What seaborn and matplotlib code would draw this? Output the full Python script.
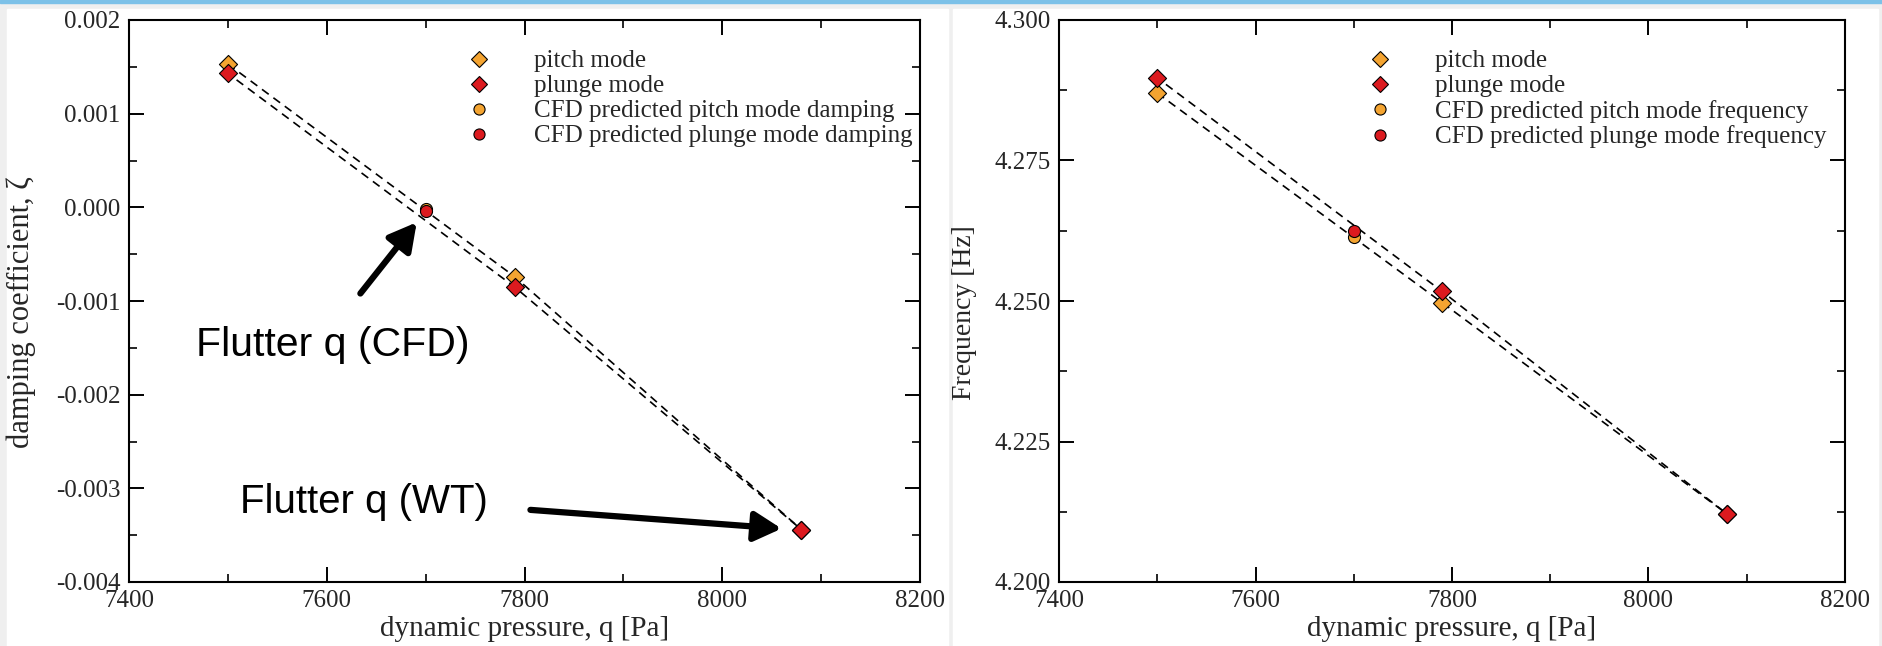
import numpy as np
import pandas as pd
import matplotlib
matplotlib.use("Agg")
import matplotlib.pyplot as plt
import seaborn as sns
from matplotlib.patches import Rectangle
from matplotlib.lines import Line2D
from matplotlib.ticker import MultipleLocator, FixedLocator, FixedFormatter

# ---------------- data ----------------
q_modes = [7500, 7790, 8080]
damp_pitch = [0.00153, -0.00074, -0.00344]
damp_plunge = [0.00143, -0.00085, -0.00344]
freq_pitch = [4.2870, 4.2497, 4.2121]
freq_plunge = [4.2897, 4.2517, 4.2121]

q_cfd = [7700]
damp_cfd_pitch = [-0.00002]
damp_cfd_plunge = [-0.00004]
freq_cfd_pitch = [4.2614]
freq_cfd_plunge = [4.2624]

x_ticks = [7400, 7600, 7800, 8000, 8200]
x_ticklabels = ["7400", "7600", "7800", "8000", "8200"]
damp_ticks = [-0.004, -0.003, -0.002, -0.001, 0.0, 0.001, 0.002]
damp_ticklabels = ["-0.004", "-0.003", "-0.002", "-0.001", "0.000", "0.001", "0.002"]
freq_ticks = [4.200, 4.225, 4.250, 4.275, 4.300]
freq_ticklabels = ["4.200", "4.225", "4.250", "4.275", "4.300"]

left_legend = ["pitch mode", "plunge mode",
               "CFD predicted pitch mode damping", "CFD predicted plunge mode damping"]
right_legend = ["pitch mode", "plunge mode",
                "CFD predicted pitch mode frequency", "CFD predicted plunge mode frequency"]

ORANGE = "#f4a431"
RED = "#dc1a1f"

sns.set_theme(style="white")
plt.rcParams["font.family"] = ["Liberation Serif", "DejaVu Serif"]
plt.rcParams["axes.unicode_minus"] = False

W, H = 1883, 646
fig = plt.figure(figsize=(W / 100, H / 100), dpi=100)
fig.patch.set_facecolor("#efefef")

# background panels
for rect in [Rectangle((0, 1 - 3 / H), 1, 3 / H, transform=fig.transFigure,
                       color="#7cc1e8", zorder=-10),
             Rectangle((7 / W, 0), (948 - 7) / W, (H - 9) / H, transform=fig.transFigure,
                       color="white", zorder=-10),
             Rectangle((953 / W, 0), (1878 - 953) / W, (H - 9) / H, transform=fig.transFigure,
                       color="white", zorder=-10)]:
    fig.add_artist(rect)


def fx(px):
    return px / W


def fy(py):
    return 1 - py / H


axL = fig.add_axes([fx(129), fy(582), fx(920 - 129), (582 - 20) / H])
axR = fig.add_axes([fx(1059), fy(582), fx(1845 - 1059), (582 - 20) / H])
axL.set_zorder(5)
axR.set_zorder(5)


def draw(ax, yp, yl, ycp, ycl):
    dfp = pd.DataFrame({"q": q_modes, "v": yp})
    dfl = pd.DataFrame({"q": q_modes, "v": yl})
    sns.lineplot(data=dfp, x="q", y="v", ax=ax, color="black", lw=1.2,
                 linestyle=(0, (5, 3.5)), sort=False, legend=False, zorder=2)
    sns.lineplot(data=dfl, x="q", y="v", ax=ax, color="black", lw=1.2,
                 linestyle=(2, (5, 3.5)), sort=False, legend=False, zorder=2)
    sns.scatterplot(x=q_modes, y=yp, ax=ax, marker="D", s=85, color=ORANGE,
                    edgecolor="black", linewidth=0.8, zorder=3, legend=False)
    sns.scatterplot(x=q_modes, y=yl, ax=ax, marker="D", s=85, color=RED,
                    edgecolor="black", linewidth=0.8, zorder=3, legend=False)
    sns.scatterplot(x=q_cfd, y=ycp, ax=ax, marker="o", s=75, color=ORANGE,
                    edgecolor="black", linewidth=0.8, zorder=4, legend=False)
    sns.scatterplot(x=q_cfd, y=ycl, ax=ax, marker="o", s=75, color=RED,
                    edgecolor="black", linewidth=0.8, zorder=4, legend=False)
    handles = [
        Line2D([], [], ls="none", marker="D", ms=8.5, mfc=ORANGE, mec="black", mew=0.8),
        Line2D([], [], ls="none", marker="D", ms=8.5, mfc=RED, mec="black", mew=0.8),
        Line2D([], [], ls="none", marker="o", ms=8, mfc=ORANGE, mec="black", mew=0.8),
        Line2D([], [], ls="none", marker="o", ms=8, mfc=RED, mec="black", mew=0.8),
    ]
    return handles


def style(ax, yticks, yticklabels, ylim):
    ax.set_facecolor("white")
    ax.set_xlim(7400, 8200)
    ax.set_ylim(*ylim)
    ax.xaxis.set_major_locator(FixedLocator(x_ticks))
    ax.xaxis.set_major_formatter(FixedFormatter(x_ticklabels))
    ax.xaxis.set_minor_locator(MultipleLocator(100))
    ax.yaxis.set_major_locator(FixedLocator(yticks))
    ax.yaxis.set_major_formatter(FixedFormatter(yticklabels))
    ax.yaxis.set_minor_locator(MultipleLocator((yticks[1] - yticks[0]) / 2))
    ax.tick_params(which="both", direction="in", top=True, right=True,
                   bottom=True, left=True, color="black", labelsize=18, pad=6)
    ax.tick_params(which="major", length=11, width=1.4)
    ax.tick_params(which="minor", length=6, width=1.2)
    for s in ax.spines.values():
        s.set_color("black")
        s.set_linewidth(1.5)
        s.set_visible(True)
    ax.grid(False)


hL = draw(axL, damp_pitch, damp_plunge, damp_cfd_pitch, damp_cfd_plunge)
style(axL, damp_ticks, damp_ticklabels, (-0.004, 0.002))
hR = draw(axR, freq_pitch, freq_plunge, freq_cfd_pitch, freq_cfd_plunge)
style(axR, freq_ticks, freq_ticklabels, (4.200, 4.300))

for ax, h, labs, lx in [(axL, hL, left_legend, 0.4267), (axR, hR, right_legend, 0.393)]:
    ax.legend(h, labs, loc="upper left", bbox_to_anchor=(lx, 0.947),
              frameon=False, fontsize=18, handlelength=1.0,
              handletextpad=1.7, labelspacing=0.1, borderpad=0,
              borderaxespad=0)
    ax.set_xlabel("dynamic pressure, q [Pa]", fontsize=21, labelpad=3)

axL.set_ylabel("damping coefficient, ζ", fontsize=22)
axL.yaxis.set_label_coords(-0.117, 0.48)
axR.set_ylabel("Frequency [Hz]", fontsize=20)
axR.yaxis.set_label_coords(-0.104, 0.48)

# annotations
ann_font = ["Liberation Sans", "DejaVu Sans"]
axL.text(7468, -0.00147, "Flutter q (CFD)", fontsize=29.5, family=ann_font,
         ha="left", va="center", color="black")
axL.text(7512, -0.00315, "Flutter q (WT)", fontsize=29, family=ann_font,
         ha="left", va="center", color="black")
arrow_kw = dict(arrowstyle="-|>,head_length=1.1,head_width=0.6", lw=4.5,
                color="black", shrinkA=0, shrinkB=0, mutation_scale=15)
axL.annotate("", xy=(7691, -0.00016), xytext=(7634, -0.00092), arrowprops=arrow_kw)
axL.annotate("", xy=(8060, -0.00343), xytext=(7806, -0.00323), arrowprops=arrow_kw)

fig.savefig("out.png", dpi=100, facecolor=fig.get_facecolor())
